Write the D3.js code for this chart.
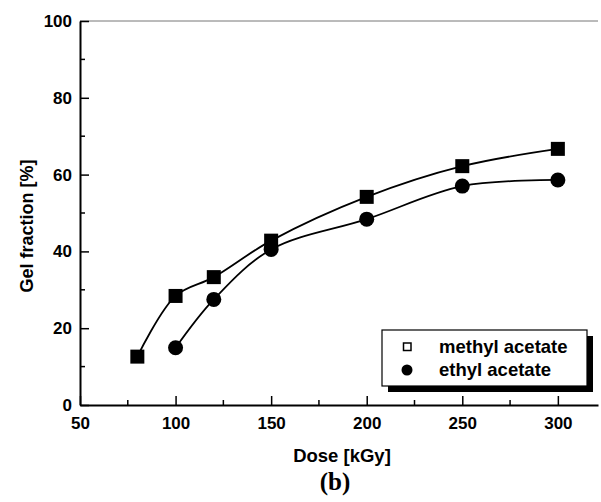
<!DOCTYPE html>
<html>
<head>
<meta charset="utf-8">
<script src="https://cdn.jsdelivr.net/npm/d3@7"></script>
<style>
  body { margin: 0; background: #fff; }
  text { font-family: "Liberation Sans", Arial, sans-serif; font-weight: bold; fill: #000; }
</style>
</head>
<body>
<script>
// data
const doseMethyl = [80, 100, 120, 150, 200, 250, 300];
const gelMethyl = [12.6, 28.4, 33.3, 42.8, 54.2, 62.2, 66.7];
const doseEthyl = [100, 120, 150, 200, 250, 300];
const gelEthyl = [14.9, 27.5, 40.5, 48.4, 57.0, 58.6];
const xTicks = [50, 100, 150, 200, 250, 300];
const xMinor = [75, 125, 175, 225, 275];
const yTicks = [0, 20, 40, 60, 80, 100];
const yMinor = [10, 30, 50, 70, 90];
const legendNames = ["methyl acetate", "ethyl acetate"];

const width = 601, height = 502;
const svg = d3.select("body").append("svg")
  .attr("width", width)
  .attr("height", height);

const x = d3.scaleLinear().domain([50, 321]).range([80, 598]);
const y = d3.scaleLinear().domain([0, 100]).range([405, 21]);

// top frame line (grey)
svg.append("line")
  .attr("x1", x(50)).attr("x2", x(321))
  .attr("y1", y(100)).attr("y2", y(100))
  .style("stroke", "#777").style("stroke-width", 1);

// x axis, ticks pointing inward
const xAxis = svg.append("g")
  .attr("transform", `translate(0,${y(0)})`)
  .call(d3.axisBottom(x).tickValues(xTicks).tickSize(-9).tickPadding(12).tickSizeOuter(0));
xAxis.append("g").selectAll("line")
  .data(xMinor).enter().append("line")
  .attr("x1", d => x(d)).attr("x2", d => x(d))
  .attr("y1", 0).attr("y2", -5)
  .style("stroke", "#000").style("stroke-width", 1.5);

// y axis, ticks pointing inward
const yAxis = svg.append("g")
  .attr("transform", `translate(${x(50)},0)`)
  .call(d3.axisLeft(y).tickValues(yTicks).tickSize(-9).tickPadding(8).tickSizeOuter(0));
yAxis.append("g").selectAll("line")
  .data(yMinor).enter().append("line")
  .attr("x1", 0).attr("x2", 5)
  .attr("y1", d => y(d)).attr("y2", d => y(d))
  .style("stroke", "#000").style("stroke-width", 1.5);

svg.selectAll(".domain").style("stroke", "#000").style("stroke-width", 2);
svg.selectAll(".tick line").style("stroke", "#000").style("stroke-width", 1.5);
svg.selectAll(".tick text").style("font-size", "17px")
  .style("font-family", "'Liberation Sans', Arial, sans-serif").style("font-weight", "bold");

// axis titles
svg.append("text")
  .attr("x", 342).attr("y", 462)
  .attr("text-anchor", "middle")
  .style("font-size", "18.5px")
  .text("Dose [kGy]");

svg.append("text")
  .attr("transform", "translate(33,226) rotate(-90)")
  .attr("text-anchor", "middle")
  .style("font-size", "18px")
  .text("Gel fraction [%]");

svg.append("text")
  .attr("x", 335).attr("y", 490)
  .attr("text-anchor", "middle")
  .style("font-family", "'Liberation Serif', 'Times New Roman', serif")
  .style("font-size", "25px")
  .text("(b)");

// smooth curves through the points
const line = d3.line()
  .x(d => x(d[0]))
  .y(d => y(d[1]))
  .curve(d3.curveCatmullRom.alpha(0.5));

const methyl = d3.zip(doseMethyl, gelMethyl);
const ethyl = d3.zip(doseEthyl, gelEthyl);

svg.append("path").datum(methyl)
  .attr("d", line)
  .style("fill", "none").style("stroke", "#000").style("stroke-width", 1.8);
svg.append("path").datum(ethyl)
  .attr("d", line)
  .style("fill", "none").style("stroke", "#000").style("stroke-width", 1.8);

// markers
const sq = 14;
svg.selectAll(".dot")
  .data(ethyl).enter().append("circle")
  .attr("class", "dot")
  .attr("cx", d => x(d[0]))
  .attr("cy", d => y(d[1]))
  .attr("r", 7.5)
  .style("fill", "#000");

svg.selectAll(".sq")
  .data(methyl).enter().append("rect")
  .attr("class", "sq")
  .attr("x", d => x(d[0]) - sq / 2)
  .attr("y", d => y(d[1]) - sq / 2)
  .attr("width", sq).attr("height", sq)
  .style("fill", "#000");

// legend with drop shadow
const lg = svg.append("g");
lg.append("rect")
  .attr("x", 388).attr("y", 336)
  .attr("width", 205).attr("height", 56)
  .style("fill", "#000");
lg.append("rect")
  .attr("x", 382).attr("y", 330)
  .attr("width", 205).attr("height", 56)
  .style("fill", "#fff").style("stroke", "#000").style("stroke-width", 1.2);

lg.append("rect")
  .attr("x", 403.5).attr("y", 343)
  .attr("width", 7.5).attr("height", 7.5)
  .style("fill", "#fff").style("stroke", "#000").style("stroke-width", 1.5);
lg.append("circle")
  .attr("cx", 407).attr("cy", 370)
  .attr("r", 5.5)
  .style("fill", "#000");

lg.selectAll(".lt")
  .data(legendNames).enter().append("text")
  .attr("class", "lt")
  .attr("x", 439)
  .attr("y", (d, i) => 353 + i * 23)
  .style("font-size", "18.5px")
  .text(d => d);
</script>
</body>
</html>
